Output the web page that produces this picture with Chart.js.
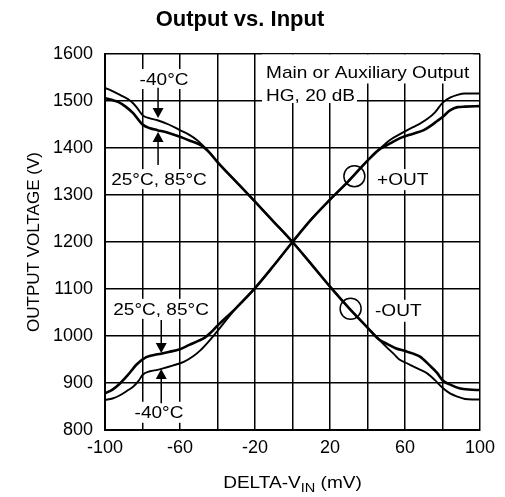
<!DOCTYPE html>
<html>
<head>
<meta charset="utf-8">
<script src="https://cdn.jsdelivr.net/npm/chart.js@4.4.1/dist/chart.umd.min.js"></script>
<style>
  html, body { margin: 0; padding: 0; background: #fff; }
  canvas { display: block; }
</style>
</head>
<body>
<canvas id="chart" width="505" height="497"></canvas>
<script>
// -OUT, 25°C and 85°C (two traces lying on top of each other)
var fallWarmX = [-100,-96,-93,-89,-85,-80,-76,-72,-66,-60,-55,-51,-48,-44,-40,-30,-20,-10,0,10,20,30,40,46,50,55,60,64,68,73,77,80,85,89,94,100];
var fallWarmY = [1506,1502,1498,1488,1474,1450,1442,1438,1432,1424,1416,1410,1404,1389,1370,1328,1286,1243,1200,1153,1105,1060,1018,993,984,974,968,963,956,938,922,906,895,889,886,885];
// -OUT, -40°C
var fallColdX = [-100,-96,-92,-86,-83,-80,-76,-72,-66,-60,-55,-51,-48,-44,-40,-30,-20,-10,0,10,20,30,40,46,50,54,57,61,66,72,76,80,84,88,92,96,100];
var fallColdY = [1528,1521,1513,1499,1486,1470,1463,1459,1450,1438,1428,1417,1406,1389,1370,1328,1286,1243,1200,1153,1105,1060,1018,993,977,962,950,942,932,920,906,890,878,871,866,865,865];
// +OUT, 25°C and 85°C
var riseWarmX = [-100,-96,-92,-88,-83,-78,-72,-66,-60,-55,-50,-47,-44,-40,-30,-20,-10,0,10,20,30,40,46,50,54,58,64,70,74,77,80,84,88,92,100];
var riseWarmY = [878,886,899,916,940,955,961,966,972,981,990,996,1006,1022,1060,1102,1150,1200,1248,1290,1330,1373,1396,1405,1414,1422,1430,1438,1448,1457,1466,1480,1487,1488,1489];
// +OUT, -40°C
var riseColdX = [-100,-96,-92,-88,-85,-82,-80,-76,-72,-64,-58,-53,-49,-45,-41,-30,-20,-10,0,10,20,30,40,46,52,58,64,68,72,76,80,84,88,92,100];
var riseColdY = [864,867,874,884,892,905,917,925,928,937,945,957,970,987,1006,1060,1102,1150,1200,1248,1290,1330,1373,1396,1417,1431,1444,1452,1462,1476,1496,1507,1513,1516,1516];
// circles marking +OUT and -OUT
var markX = [33, 31];
var markY = [1340, 1058];

var xTickLabels = [-100, -60, -20, 20, 60, 100];

var FONT = "'Liberation Sans', Arial, Helvetica, sans-serif";
var STRETCH = 1.12;   // the reference lettering is a bit wider than Arial

function pts(xs, ys) {
    var out = [];
    for (let i = 0; i < xs.length; i++) out.push({x: xs[i], y: ys[i]});
    return out;
}

// notes inside the plot: value position, alignment, white box padding [left, up, right, down]
var notes = [
    {text: 'Main or Auxiliary Output', x: -14.1, y: 1550, align: 'left', pad: [4, 23, 4, 6]},
    {text: 'HG, 20 dB', x: -14.1, y: 1500, align: 'left', pad: [4, 18, 2, 2]},
    {text: '-40°C', x: -68.5, y: 1534, align: 'center', pad: [3, 16, 3, 4]},
    {text: '25°C, 85°C', x: -71.2, y: 1321, align: 'center', pad: [3, 16, 3, 4]},
    {text: '25°C, 85°C', x: -70.1, y: 1045, align: 'center', pad: [3, 16, 3, 4]},
    {text: '-40°C', x: -71.2, y: 826, align: 'center', pad: [3, 16, 3, 5]},
    {text: '+OUT', x: 45.1, y: 1321, align: 'left', pad: [3, 16, 3, 5]},
    {text: '-OUT', x: 44, y: 1043, align: 'left', pad: [3, 16, 3, 6]}
];
// arrows: x, tail value, tip value
var arrows = [
    {x: -71.7, from: 1528, to: 1464},
    {x: -71.7, from: 1364, to: 1434},
    {x: -70.0, from: 1034, to: 964},
    {x: -70.0, from: 857, to: 930}
];

function textWidth(ctx, text) {
    return ctx.measureText(text).width * STRETCH;
}

function drawWide(ctx, text, left, base) {
    ctx.save();
    ctx.translate(left, base);
    ctx.scale(STRETCH, 1);
    ctx.textAlign = 'left';
    ctx.textBaseline = 'alphabetic';
    ctx.fillText(text, 0, 0);
    ctx.restore();
}

var notePlugin = {
    id: 'notes',
    beforeDatasetsDraw(chart) {
        const ctx = chart.ctx, sx = chart.scales.x, sy = chart.scales.y;
        ctx.save();
        ctx.font = '17px ' + FONT;
        ctx.fillStyle = '#fff';
        notes.forEach(n => {
            const w = textWidth(ctx, n.text);
            const px = sx.getPixelForValue(n.x), py = sy.getPixelForValue(n.y);
            const left = n.align === 'center' ? px - w / 2 : px;
            ctx.fillRect(left - n.pad[0], py - n.pad[1], w + n.pad[0] + n.pad[2], n.pad[1] + n.pad[3]);
        });
        ctx.restore();
    },
    afterDatasetsDraw(chart) {
        const ctx = chart.ctx, sx = chart.scales.x, sy = chart.scales.y;
        ctx.save();
        ctx.fillStyle = '#000';
        ctx.strokeStyle = '#000';
        ctx.font = '17px ' + FONT;
        notes.forEach(n => {
            const w = textWidth(ctx, n.text);
            const px = sx.getPixelForValue(n.x), py = sy.getPixelForValue(n.y);
            drawWide(ctx, n.text, n.align === 'center' ? px - w / 2 : px, py);
        });

        // arrows
        ctx.lineWidth = 1.5;
        arrows.forEach(a => {
            const px = sx.getPixelForValue(a.x);
            const y0 = sy.getPixelForValue(a.from), y1 = sy.getPixelForValue(a.to);
            const dir = y1 > y0 ? 1 : -1;
            const head = 10;
            ctx.beginPath();
            ctx.moveTo(px, y0);
            ctx.lineTo(px, y1 - dir * head);
            ctx.stroke();
            ctx.beginPath();
            ctx.moveTo(px, y1);
            ctx.lineTo(px - 5.5, y1 - dir * head);
            ctx.lineTo(px + 5.5, y1 - dir * head);
            ctx.closePath();
            ctx.fill();
        });

        // x axis title with subscript
        const parts = [
            {text: 'DELTA-V', size: 17, dy: 0},
            {text: 'IN', size: 13, dy: 4},
            {text: ' (mV)', size: 17, dy: 0}
        ];
        let total = 0;
        parts.forEach(p => { ctx.font = p.size + 'px ' + FONT; p.w = textWidth(ctx, p.text); total += p.w; });
        let cx = (chart.chartArea.left + chart.chartArea.right) / 2 - total / 2;
        const base = 488;
        parts.forEach(p => {
            ctx.font = p.size + 'px ' + FONT;
            drawWide(ctx, p.text, cx, base + p.dy);
            cx += p.w;
        });
        ctx.restore();
    }
};

var tickFont = {family: FONT, size: 18};

new Chart(document.getElementById('chart'), {
    type: 'line',
    data: {
        datasets: [
            {label: '-OUT 25/85', data: pts(fallWarmX, fallWarmY), borderColor: '#000', borderWidth: 2.6, pointRadius: 0, cubicInterpolationMode: 'monotone'},
            {label: '-OUT -40', data: pts(fallColdX, fallColdY), borderColor: '#000', borderWidth: 1.9, pointRadius: 0, cubicInterpolationMode: 'monotone'},
            {label: '+OUT 25/85', data: pts(riseWarmX, riseWarmY), borderColor: '#000', borderWidth: 2.6, pointRadius: 0, cubicInterpolationMode: 'monotone'},
            {label: '+OUT -40', data: pts(riseColdX, riseColdY), borderColor: '#000', borderWidth: 1.9, pointRadius: 0, cubicInterpolationMode: 'monotone'},
            {label: 'marks', type: 'scatter', data: pts(markX, markY), showLine: false,
             pointRadius: 10.5, pointBorderWidth: 1.5, pointBorderColor: '#000', pointBackgroundColor: 'rgba(0,0,0,0)'}
        ]
    },
    options: {
        responsive: false,
        animation: false,
        events: [],
        layout: {padding: {left: 0, right: 25, top: 0, bottom: 0}},
        plugins: {
            legend: {display: false},
            tooltip: {enabled: false},
            title: {
                display: true,
                text: 'Output vs. Input',
                color: '#000',
                font: {family: FONT, size: 22, weight: 'bold', lineHeight: 1.2},
                padding: {top: 7, bottom: 20.6}
            }
        },
        scales: {
            x: {
                type: 'linear',
                min: -100,
                max: 100,
                grid: {color: '#000', lineWidth: 1.5, drawTicks: false},
                border: {color: '#000', width: 2},
                ticks: {
                    stepSize: 20,
                    autoSkip: false,
                    maxRotation: 0,
                    color: '#000',
                    font: tickFont,
                    padding: 7,
                    callback: v => xTickLabels.includes(v) ? String(v) : ''
                },
                afterFit: s => { s.height = 67; }
            },
            y: {
                min: 800,
                max: 1600,
                grid: {color: '#000', lineWidth: 1.5, drawTicks: false},
                border: {color: '#000', width: 2},
                ticks: {stepSize: 100, color: '#000', font: tickFont, padding: 12, callback: v => String(v)},
                title: {
                    display: true,
                    text: 'OUTPUT VOLTAGE (V)',
                    color: '#000',
                    font: {family: FONT, size: 17, lineHeight: 1.2},
                    padding: {top: 24, bottom: 0}
                },
                afterFit: s => { s.width = 105; }
            }
        }
    },
    plugins: [notePlugin]
});
</script>
</body>
</html>
